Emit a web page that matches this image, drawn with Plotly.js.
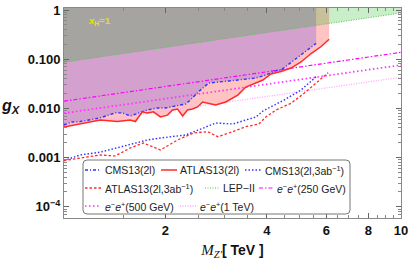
<!DOCTYPE html>
<html><head><meta charset="utf-8">
<script src="https://cdn.plot.ly/plotly-3.0.1.min.js"></script>
<style>html,body{margin:0;padding:0;background:#fff}#chart{width:413px;height:261px}</style>
</head><body><div id="chart"></div>
<script>
// ---- data (M_Z' in TeV, g_X) ----
const atlasM = [1.00,1.116,1.28,1.439,1.573,1.628,1.708,1.768,1.842,1.932,2.028,2.099,2.172,2.248,2.326,2.407,2.491,2.578,2.818,3.019,3.279,3.463,3.634,3.892,4.111,4.405,4.716,5.051,5.412,5.795,6.12];
const atlasG = [0.0042,0.0048,0.0058,0.0054,0.0058,0.0054,0.0085,0.0081,0.0085,0.0067,0.0073,0.0093,0.0097,0.0070,0.0093,0.0097,0.0107,0.0135,0.0117,0.0135,0.0187,0.0272,0.0313,0.0378,0.050,0.0562,0.0662,0.0877,0.1305,0.181,0.254];

const cmsM = [1.00,1.056,1.116,1.28,1.418,1.489,1.573,1.662,1.768,1.893,2.00,2.142,2.295,2.37,2.508,2.687,2.877,3.082,3.279,3.463,3.709,3.972,4.256,4.405,4.716,5.051,5.60];
const cmsG = [0.0046,0.0053,0.0054,0.0064,0.0081,0.0081,0.0070,0.0081,0.0093,0.0102,0.0102,0.0112,0.0123,0.0148,0.0218,0.0328,0.0349,0.0361,0.0378,0.0396,0.0415,0.0477,0.0584,0.0603,0.0858,0.1234,0.210];

const cms3M = [1.00,1.116,1.28,1.439,1.606,1.768,1.932,2.07,2.295,2.508,2.818,3.168,3.463,3.709,3.892,4.198,4.496,5.051,5.60];
const cms3G = [0.00087,0.00113,0.00129,0.00157,0.0019,0.00228,0.0025,0.00266,0.00288,0.00364,0.00505,0.00482,0.00581,0.00668,0.00885,0.0117,0.0148,0.0237,0.0441];

const atlas3M = [1.00,1.116,1.28,1.418,1.573,1.72,1.932,2.172,2.424,2.669,2.858,3.168,3.463,3.786,3.972,4.256,4.716,5.157,5.525,6.08];
const atlas3G = [0.00087,0.00099,0.00113,0.00108,0.00157,0.00198,0.00143,0.00228,0.00316,0.00336,0.00266,0.00336,0.00425,0.00482,0.00668,0.00928,0.0127,0.0203,0.0299,0.0532];

const lepM = [1, 10];
const lepG = [0.087, 0.87];
const ee250M = [1, 10];
const ee250G = [0.0140, 0.138];
const ee500M = [1, 10];
const ee500G = [0.0080, 0.076];
const ee1000M = [1, 10];
const ee1000G = [0.0045, 0.043];

const yTickVals = [1e-4, 1e-3, 1e-2, 0.1, 1];
const yTickText = ['10<sup>\u22124</sup>', '0.001', '0.010', '0.100', '1'];
const xTickVals = [2, 4, 6, 8, 10];
const xTickText = ['2', '4', '6', '8', '10'];
const xMinorVals = [1.5, 2.5, 3, 3.5, 4.5, 5, 5.5, 6.5, 7, 7.5, 8.5, 9, 9.5];

const names = ['CMS13(2l)', 'ATLAS13(2l)', 'CMS13(2l,3ab<sup>\u22121</sup>)',
  'ATLAS13(2l,3ab<sup>\u22121</sup>)', 'LEP\u2212II', '<i>e</i><sup>\u2212</sup><i>e</i><sup>+</sup>(250 GeV)',
  '<i>e</i><sup>\u2212</sup><i>e</i><sup>+</sup>(500 GeV)', '<i>e</i><sup>\u2212</sup><i>e</i><sup>+</sup>(1 TeV)'];

// ---- styles ----
const FILL_TOP = 10;
const styles = [
  {color:'#3030ff', width:1.4, dash:'3px,2px,1px,2px'},
  {color:'#ff2a2a', width:1.5, dash:'solid'},
  {color:'#3030ff', width:1.4, dash:'1.5px,2px'},
  {color:'#ff2a2a', width:1.3, dash:'2.5px,2px'},
  {color:'#5cc05c', width:1.0, dash:'1px,1.5px'},
  {color:'#ff00ff', width:1.2, dash:'4px,2px,1.5px,2px'},
  {color:'#ff30ff', width:1.7, dash:'1.5px,2.5px'},
  {color:'#ffa8ff', width:1.4, dash:'1px,1.5px'}
];

function fillTrace(xs, ys, color) {
  return {x: xs.concat([xs[xs.length-1], xs[0]]), y: ys.concat([FILL_TOP, FILL_TOP]),
    mode:'lines', fill:'toself', fillcolor:color, line:{width:0}, hoverinfo:'skip', showlegend:false};
}
function lineTrace(xs, ys, i) {
  return {x: xs, y: ys, mode:'lines', name: names[i], line: styles[i], showlegend:false};
}

const traces = [
  fillTrace(atlasM, atlasG, 'rgba(255,0,0,0.235)'),
  fillTrace(cmsM, cmsG, 'rgba(112,78,228,0.30)'),
  fillTrace(lepM, lepG, 'rgba(0,180,0,0.216)'),
  lineTrace(ee1000M, ee1000G, 7),
  lineTrace(ee500M, ee500G, 6),
  lineTrace(ee250M, ee250G, 5),
  lineTrace(lepM, lepG, 4),
  lineTrace(cms3M, cms3G, 2),
  lineTrace(atlas3M, atlas3G, 3),
  lineTrace(cmsM, cmsG, 0),
  lineTrace(atlasM, atlasG, 1)
];

// ---- layout helpers (pixel -> paper) ----
const L = 64, R = 12, T = 8, B = 43, W = 413, H = 261;
const PW = W - L - R, PH = H - T - B;
const px = v => (v - L) / PW;
const py = v => (T + PH - v) / PH;

const yMinor = [];
for (let e = -5; e <= 0; e++) for (let k = 2; k <= 9; k++) yMinor.push(k * Math.pow(10, e));

// legend box (rounded)
const bx0 = px(83), bx1 = px(350), by0 = py(214), by1 = py(160);
const rx = 4 / PW, ry = 4 / PH;
const boxPath = `M ${bx0+rx},${by0} L ${bx1-rx},${by0} Q ${bx1},${by0} ${bx1},${by0+ry} L ${bx1},${by1-ry} Q ${bx1},${by1} ${bx1-rx},${by1} L ${bx0+rx},${by1} Q ${bx0},${by1} ${bx0},${by1-ry} L ${bx0},${by0+ry} Q ${bx0},${by0} ${bx0+rx},${by0} Z`;

const legendItems = [
  {i:0, s0:85, s1:101, t:104, y:170},
  {i:1, s0:161, s1:177, t:179, y:170},
  {i:2, s0:245, s1:261, t:264, y:170},
  {i:3, s0:85, s1:101, t:104, y:188},
  {i:4, s0:205, s1:220, t:222, y:188},
  {i:5, s0:259, s1:274, t:276, y:188},
  {i:6, s0:85, s1:101, t:104, y:206},
  {i:7, s0:180, s1:196, t:199, y:206}
];

const shapes = [{type:'path', xref:'paper', yref:'paper', path: boxPath,
  line:{color:'#777', width:1}, fillcolor:'#fff'}];
const annotations = [];
legendItems.forEach(it => {
  shapes.push({type:'line', xref:'paper', yref:'paper', x0:px(it.s0), x1:px(it.s1), y0:py(it.y), y1:py(it.y),
    line:{color:styles[it.i].color, width:styles[it.i].width, dash:styles[it.i].dash}});
  annotations.push({xref:'paper', yref:'paper', x:px(it.t), y:py(it.y), xanchor:'left', yanchor:'middle',
    text:names[it.i], showarrow:false, borderpad:0,
    font:{family:'Liberation Sans, Arial, sans-serif', size:10.5, color:'#222'}});
});
annotations.push({xref:'paper', yref:'paper', x:px(11), y:py(106), xanchor:'center', yanchor:'middle',
  text:'<b><i>g</i><sub><i>X</i></sub></b>', showarrow:false,
  font:{family:'Liberation Sans, Arial, sans-serif', size:16, color:'#111'}});
annotations.push({xref:'paper', yref:'paper', x:px(87), y:py(21), xanchor:'left', yanchor:'middle',
  text:'<i>x</i><sub>H</sub>=1', showarrow:false, borderpad:0,
  font:{family:'Liberation Sans, Arial, sans-serif', size:9.5, color:'#e8e000', weight:'bold'}});

const tickFont = {family:'Liberation Sans, Arial, sans-serif', size:13, color:'#111', weight:'bold'};

const layout = {
  width: W, height: H, margin:{l:L, r:R, t:T, b:B},
  paper_bgcolor:'#fff', plot_bgcolor:'#fff', showlegend:false,
  xaxis:{type:'log', range:[0, 1], tickmode:'array', tickvals:xTickVals, ticktext:xTickText,
    ticks:'inside', ticklen:5, tickcolor:'#666', showline:true, linecolor:'#888', linewidth:1,
    mirror:'allticks', showgrid:false, zeroline:false, tickfont:tickFont,
    minor:{tickmode:'array', tickvals:xMinorVals, ticks:'inside', ticklen:3, tickcolor:'#888', showgrid:false},
    title:{text:'<span style="font-family:Liberation Serif,serif;font-weight:normal;font-size:15px"><i>M</i><sub><i>Z\u2032</i></sub></span>[ TeV ]',
      font:{family:'Liberation Sans, Arial, sans-serif', size:14, color:'#111', weight:'bold'}, standoff:8}},
  yaxis:{type:'log', range:[-4.228, 0.041], tickmode:'array', tickvals:yTickVals, ticktext:yTickText,
    ticks:'inside', ticklen:5, tickcolor:'#666', showline:true, linecolor:'#888', linewidth:1,
    mirror:'allticks', showgrid:false, zeroline:false, tickfont:tickFont,
    minor:{tickmode:'array', tickvals:yMinor, ticks:'inside', ticklen:3, tickcolor:'#888', showgrid:false}},
  shapes: shapes,
  annotations: annotations
};

Plotly.newPlot('chart', traces, layout, {staticPlot:true, displayModeBar:false});
</script>
</body></html>
